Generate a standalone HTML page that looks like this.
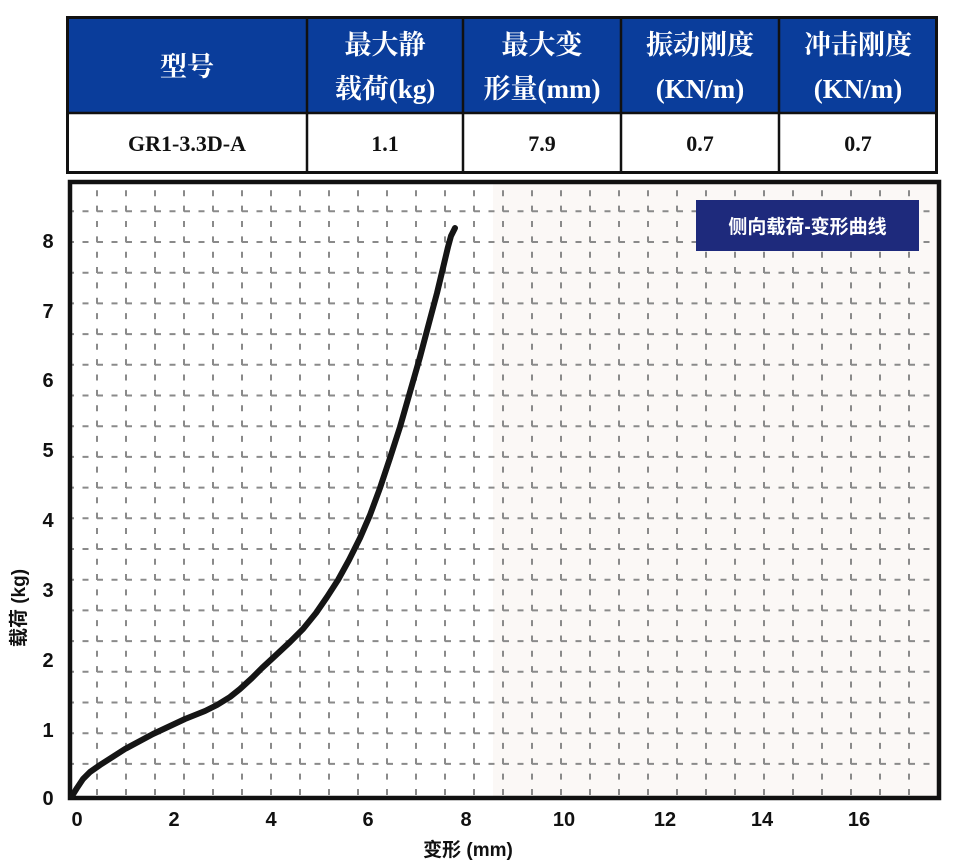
<!DOCTYPE html>
<html><head><meta charset="utf-8"><style>
html,body{margin:0;padding:0;background:#fff;width:963px;height:861px;overflow:hidden}
svg{display:block}
</style></head><body>
<svg width="963" height="861" viewBox="0 0 963 861" xmlns="http://www.w3.org/2000/svg">
<defs>
<clipPath id="pc"><rect x="71" y="183" width="867" height="614"/></clipPath>
</defs>
<!-- table -->
<rect x="67" y="17" width="870" height="96" fill="#0a3d9b"/>
<rect x="67" y="113" width="870" height="60" fill="#fff"/>
<rect x="67.5" y="17.5" width="869" height="155" fill="none" stroke="#111" stroke-width="3"/>
<line x1="67" y1="113" x2="937" y2="113" stroke="#111" stroke-width="2.5"/>
<g stroke="#111" stroke-width="2.5">
<line x1="307" y1="17" x2="307" y2="173"/><line x1="463" y1="17" x2="463" y2="173"/>
<line x1="621" y1="17" x2="621" y2="173"/><line x1="779" y1="17" x2="779" y2="173"/>
</g>
<g fill="#fff" font-family="Liberation Serif, Noto Serif CJK SC, serif" font-weight="bold" font-size="27" text-anchor="middle">
<text x="187" y="76">型号</text>
<text x="385" y="54">最大静</text><text x="385" y="98">载荷(kg)</text>
<text x="542" y="54">最大变</text><text x="542" y="98">形量(mm)</text>
<text x="700" y="54">振动刚度</text><text x="700" y="98">(KN/m)</text>
<text x="858" y="54">冲击刚度</text><text x="858" y="98">(KN/m)</text>
</g>
<g fill="#111" font-family="Liberation Serif, serif" font-weight="bold" font-size="22" text-anchor="middle">
<text x="187" y="151">GR1-3.3D-A</text><text x="385" y="151">1.1</text><text x="542" y="151">7.9</text>
<text x="700" y="151">0.7</text><text x="858" y="151">0.7</text>
</g>
<!-- chart -->
<rect x="71" y="183" width="867" height="614" fill="#fff"/>
<rect x="493" y="183" width="445" height="614" fill="#fbf8f6"/>
<g clip-path="url(#pc)" stroke="#8a8a8a" stroke-width="2" fill="none">
<g stroke-dasharray="6 8.5">
<line x1="68" y1="211.3" x2="938" y2="211.3"/><line x1="68" y1="242" x2="938" y2="242"/>
<line x1="68" y1="272.7" x2="938" y2="272.7"/><line x1="68" y1="303.4" x2="938" y2="303.4"/>
<line x1="68" y1="334.1" x2="938" y2="334.1"/><line x1="68" y1="364.8" x2="938" y2="364.8"/>
<line x1="68" y1="395.5" x2="938" y2="395.5"/><line x1="68" y1="426.2" x2="938" y2="426.2"/>
<line x1="68" y1="456.9" x2="938" y2="456.9"/><line x1="68" y1="487.6" x2="938" y2="487.6"/>
<line x1="68" y1="518.3" x2="938" y2="518.3"/><line x1="68" y1="549" x2="938" y2="549"/>
<line x1="68" y1="579.7" x2="938" y2="579.7"/><line x1="68" y1="610.4" x2="938" y2="610.4"/>
<line x1="68" y1="641.1" x2="938" y2="641.1"/><line x1="68" y1="671.8" x2="938" y2="671.8"/>
<line x1="68" y1="702.5" x2="938" y2="702.5"/><line x1="68" y1="733.2" x2="938" y2="733.2"/>
<line x1="68" y1="763.9" x2="938" y2="763.9"/>
</g>
<g stroke-dasharray="6 9.35" stroke-dashoffset="-0.3">
<line x1="97" y1="190" x2="97" y2="800"/><line x1="126" y1="190" x2="126" y2="800"/>
<line x1="155" y1="190" x2="155" y2="800"/><line x1="184" y1="190" x2="184" y2="800"/>
<line x1="213" y1="190" x2="213" y2="800"/><line x1="242" y1="190" x2="242" y2="800"/>
<line x1="271" y1="190" x2="271" y2="800"/><line x1="300" y1="190" x2="300" y2="800"/>
<line x1="329" y1="190" x2="329" y2="800"/><line x1="358" y1="190" x2="358" y2="800"/>
<line x1="387" y1="190" x2="387" y2="800"/><line x1="416" y1="190" x2="416" y2="800"/>
<line x1="445" y1="190" x2="445" y2="800"/><line x1="474" y1="190" x2="474" y2="800"/>
<line x1="503" y1="190" x2="503" y2="800"/><line x1="532" y1="190" x2="532" y2="800"/>
<line x1="561" y1="190" x2="561" y2="800"/><line x1="590" y1="190" x2="590" y2="800"/>
<line x1="619" y1="190" x2="619" y2="800"/><line x1="648" y1="190" x2="648" y2="800"/>
<line x1="677" y1="190" x2="677" y2="800"/><line x1="706" y1="190" x2="706" y2="800"/>
<line x1="735" y1="190" x2="735" y2="800"/><line x1="764" y1="190" x2="764" y2="800"/>
<line x1="793" y1="190" x2="793" y2="800"/><line x1="822" y1="190" x2="822" y2="800"/>
<line x1="851" y1="190" x2="851" y2="800"/><line x1="880" y1="190" x2="880" y2="800"/>
<line x1="909" y1="190" x2="909" y2="800"/>
</g>
</g>
<rect x="70" y="182" width="869" height="616" fill="none" stroke="#111" stroke-width="4.5"/>
<!-- curve -->
<polyline points="72,796 77,788 83,779 90,772 100,765 125,749 153,734 185,719 205,711 217,705 230,697 240,689 252,678 262,668 275,656 290,642 303,629 316,613 327,597 338,580 349,560 360,538 370,515 380,488 390,458 400,427 410,392 420,357 429,323 437,293 443,268 448,247 451,236 455,228"
 fill="none" stroke="#151515" stroke-width="6" stroke-linecap="round" stroke-linejoin="round"/>
<!-- title box -->
<rect x="696" y="200" width="223" height="51" fill="#1e2a7c"/>
<text x="807.5" y="233" fill="#fff" font-family="Liberation Sans, Noto Sans CJK SC, sans-serif" font-weight="bold" font-size="19" text-anchor="middle">侧向载荷-变形曲线</text>
<!-- ticks -->
<g font-family="Liberation Sans, sans-serif" font-weight="bold" font-size="20" fill="#111" text-anchor="middle">
<text x="48" y="805">0</text><text x="48" y="737">1</text><text x="48" y="667">2</text><text x="48" y="597">3</text>
<text x="48" y="527">4</text><text x="48" y="457">5</text><text x="48" y="387">6</text><text x="48" y="318">7</text><text x="48" y="248">8</text>
<text x="77" y="826">0</text><text x="174" y="826">2</text><text x="271" y="826">4</text><text x="368" y="826">6</text>
<text x="466" y="826">8</text><text x="564" y="826">10</text><text x="665" y="826">12</text><text x="762" y="826">14</text><text x="859" y="826">16</text>
</g>
<text x="468" y="856" font-family="Liberation Sans, Noto Sans CJK SC, sans-serif" font-weight="bold" font-size="19" fill="#111" text-anchor="middle">变形 (mm)</text>
<text transform="translate(25,608) rotate(-90)" font-family="Liberation Sans, Noto Sans CJK SC, sans-serif" font-weight="bold" font-size="19" fill="#111" text-anchor="middle">载荷 (kg)</text>
</svg>
</body></html>
